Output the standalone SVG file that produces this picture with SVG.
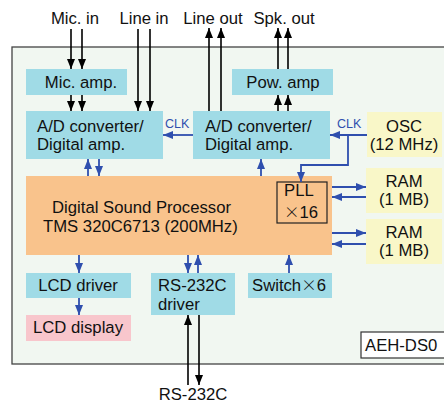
<svg xmlns="http://www.w3.org/2000/svg" width="444" height="403" viewBox="0 0 444 403">
<defs>
<style>
text{font-family:"Liberation Sans",Arial,sans-serif;font-size:16.7px;fill:#111}
.x{font-family:"Noto Sans CJK JP","Liberation Sans",sans-serif;font-weight:300;font-size:15.5px}
.cy{fill:#a0dbe6}
.or{fill:#f9c38c}
.ye{fill:#f9f7c8}
.pk{fill:#f8c6cc}
.bk{stroke:#000;stroke-width:1.6;fill:none}
.bl{stroke:#2f4fae;stroke-width:1.8;fill:none}
.clk{font-size:12.5px;fill:#2f4fae}
.c{text-anchor:middle}
</style>
<marker id="ab" markerUnits="userSpaceOnUse" markerWidth="10" markerHeight="8" refX="10" refY="4" orient="auto"><path d="M0,0L10,4L0,8z" fill="#000"/></marker>
<marker id="au" markerUnits="userSpaceOnUse" markerWidth="10" markerHeight="8" refX="10" refY="4" orient="auto"><path d="M0,0L10,4L0,8z" fill="#2f4fae"/></marker>
</defs>
<rect id="board" x="12" y="47" width="440" height="317" fill="#f1f7f1" stroke="#444" stroke-width="1.3"/>

<g id="labels">
<text x="75" y="24" class="c">Mic. in</text>
<text x="144" y="24" class="c">Line in</text>
<text x="213" y="24" class="c">Line out</text>
<text x="284" y="24" class="c">Spk. out</text>
<text x="193" y="400" class="c">RS-232C</text>
</g>

<g id="mic-amp"><rect class="cy" x="26" y="69" width="101" height="26"/><text x="81" y="88" class="c">Mic. amp.</text></g>
<g id="ad-left"><rect class="cy" x="26" y="111" width="137" height="48"/><text x="37" y="132">A/D converter/</text><text x="37" y="150">Digital amp.</text></g>
<g id="ad-right"><rect class="cy" x="193" y="111" width="137" height="48"/><text x="205" y="132">A/D converter/</text><text x="205" y="150">Digital amp.</text></g>
<g id="pow-amp"><rect class="cy" x="232" y="69" width="101" height="26"/><text x="283" y="88" class="c">Pow. amp</text></g>
<g id="osc"><rect class="ye" x="367" y="112" width="75" height="45"/><text x="404" y="132" class="c">OSC</text><text x="404" y="150" class="c">(12 MHz)</text></g>
<g id="dsp"><rect class="or" x="26" y="176" width="306" height="79"/><text x="52" y="213">Digital Sound Processor</text><text x="43" y="232">TMS 320C6713 (200MHz)</text></g>
<g id="pll"><rect x="277" y="182" width="50" height="41" fill="none" stroke="#222" stroke-width="1.2"/><text x="284" y="196">PLL</text><text x="284" y="218"><tspan class="x">×</tspan>16</text></g>
<g id="ram1"><rect class="ye" x="366" y="168" width="76" height="45"/><text x="404" y="187" class="c">RAM</text><text x="404" y="205" class="c">(1 MB)</text></g>
<g id="ram2"><rect class="ye" x="366" y="219" width="76" height="45"/><text x="404" y="238" class="c">RAM</text><text x="404" y="256" class="c">(1 MB)</text></g>
<g id="lcd-driver"><rect class="cy" x="26" y="273" width="105" height="25"/><text x="78" y="291" class="c">LCD driver</text></g>
<g id="lcd-display"><rect class="pk" x="26" y="315" width="105" height="26"/><text x="78" y="333" class="c">LCD display</text></g>
<g id="rs232-driver"><rect class="cy" x="151" y="273" width="84" height="42"/><text x="158" y="291">RS-232C</text><text x="158" y="310">driver</text></g>
<g id="switch"><rect class="cy" x="248" y="273" width="84" height="25"/><text x="252" y="291">Switch<tspan class="x">×</tspan>6</text></g>
<g id="aeh"><rect x="361" y="332" width="90" height="26" fill="#fff" stroke="#333" stroke-width="1.2"/><text x="365" y="351">AEH-DS0</text></g>

<g id="connectors">
<line class="bk" x1="71" y1="29" x2="71" y2="69" marker-end="url(#ab)"/>
<line class="bk" x1="82" y1="29" x2="82" y2="69" marker-end="url(#ab)"/>
<line class="bk" x1="71" y1="95" x2="71" y2="111" marker-end="url(#ab)"/>
<line class="bk" x1="82" y1="95" x2="82" y2="111" marker-end="url(#ab)"/>
<line class="bk" x1="138" y1="29" x2="138" y2="111" marker-end="url(#ab)"/>
<line class="bk" x1="150" y1="29" x2="150" y2="111" marker-end="url(#ab)"/>
<line class="bk" x1="209" y1="111" x2="209" y2="28" marker-end="url(#ab)"/>
<line class="bk" x1="221" y1="111" x2="221" y2="28" marker-end="url(#ab)"/>
<line class="bk" x1="278" y1="69" x2="278" y2="28" marker-end="url(#ab)"/>
<line class="bk" x1="288" y1="69" x2="288" y2="28" marker-end="url(#ab)"/>
<line class="bk" x1="278" y1="111" x2="278" y2="95" marker-end="url(#ab)"/>
<line class="bk" x1="288" y1="111" x2="288" y2="95" marker-end="url(#ab)"/>
<line class="bk" x1="188" y1="385" x2="188" y2="315" marker-end="url(#ab)"/>
<line class="bk" x1="199" y1="315" x2="199" y2="385" marker-end="url(#ab)"/>

<line class="bl" x1="193" y1="135" x2="163" y2="135" marker-end="url(#au)"/>
<text x="165" y="128" class="clk">CLK</text>
<line class="bl" x1="367" y1="135" x2="330" y2="135" marker-end="url(#au)"/>
<text x="337" y="128" class="clk">CLK</text>
<polyline class="bl" points="348,135 348,165 301,165 301,182" marker-end="url(#au)"/>
<line class="bl" x1="88" y1="176" x2="88" y2="159" marker-end="url(#au)"/>
<line class="bl" x1="99" y1="159" x2="99" y2="176" marker-end="url(#au)"/>
<line class="bl" x1="261" y1="176" x2="261" y2="159" marker-end="url(#au)"/>
<line class="bl" x1="79" y1="255" x2="79" y2="273" marker-end="url(#au)"/>
<line class="bl" x1="79" y1="298" x2="79" y2="315" marker-end="url(#au)"/>
<line class="bl" x1="188" y1="255" x2="188" y2="273" marker-end="url(#au)"/>
<line class="bl" x1="198" y1="273" x2="198" y2="255" marker-end="url(#au)"/>
<line class="bl" x1="289" y1="273" x2="289" y2="255" marker-end="url(#au)"/>
<line class="bl" x1="332" y1="187" x2="366" y2="187" marker-end="url(#au)"/>
<line class="bl" x1="366" y1="197" x2="332" y2="197" marker-end="url(#au)"/>
<line class="bl" x1="332" y1="233" x2="366" y2="233" marker-end="url(#au)"/>
<line class="bl" x1="366" y1="244" x2="332" y2="244" marker-end="url(#au)"/>
</g>
</svg>
